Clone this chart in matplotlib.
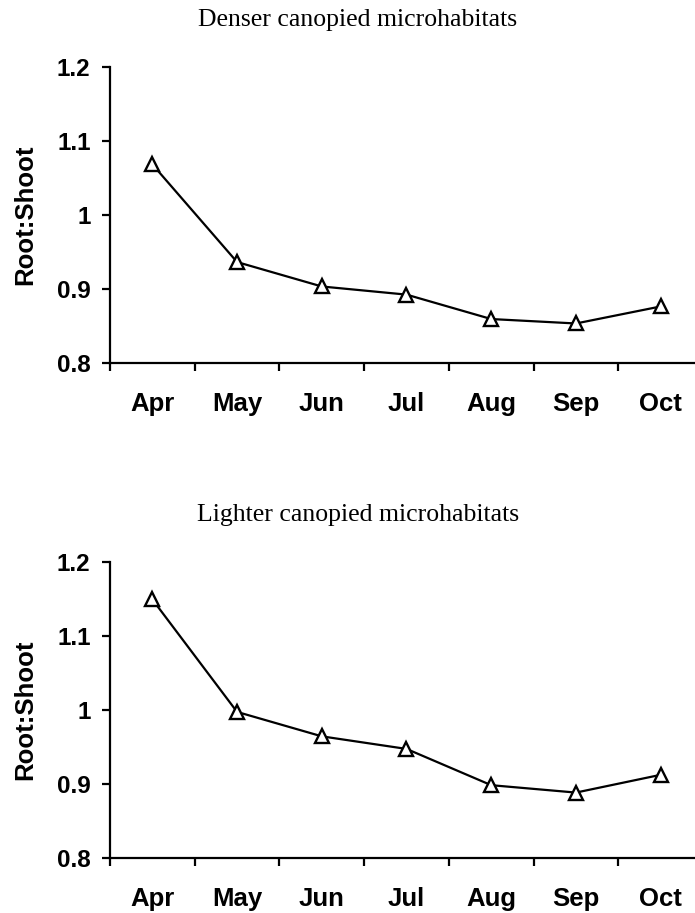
import numpy as np
import matplotlib
matplotlib.use("Agg")
import matplotlib.pyplot as plt
from matplotlib.ticker import FixedLocator

months = ["Apr", "May", "Jun", "Jul", "Aug", "Sep", "Oct"]
denser = [1.068, 0.936, 0.903, 0.892, 0.859, 0.853, 0.876]
lighter = [1.149, 0.997, 0.964, 0.947, 0.898, 0.888, 0.912]
y_ticks = [0.8, 0.9, 1.0, 1.1, 1.2]
y_tick_labels = ["0.8", "0.9", "1", "1.1", "1.2"]
titles = ["Denser canopied microhabitats", "Lighter canopied microhabitats"]

W, H = 695, 913
fig = plt.figure(figsize=(W / 100, H / 100), dpi=100)

sans = "Liberation Sans"
serif = "Liberation Serif"


def panel(top_px, values, title, title_base_px):
    # axes box in pixels: left 110, right 703 (runs off the right edge)
    left, right, bottom_px = 110, 703, top_px + 296
    ax = fig.add_axes([left / W, 1 - bottom_px / H, (right - left) / W, 296 / H])
    x = np.arange(len(months))
    ax.plot(x, values, color="black", lw=1.6, marker="^", ms=10,
            mfc="white", mec="black", mew=1.7, clip_on=False, zorder=3)
    ax.set_xlim(-0.5, len(months) - 0.5)
    ax.set_ylim(0.8, 1.2)

    for s in ["top", "right"]:
        ax.spines[s].set_visible(False)
    for s in ["left", "bottom"]:
        ax.spines[s].set_linewidth(1.6)

    ax.set_yticks(y_ticks)
    ax.set_yticklabels(y_tick_labels, fontname=sans, fontweight="bold", fontsize=17.5)
    ax.tick_params(axis="y", direction="out", length=6, width=1.6, pad=8)

    ax.set_xticks(x)
    ax.set_xticklabels(months, fontname=sans, fontweight="bold", fontsize=18.5)
    ax.tick_params(axis="x", which="major", length=0, pad=21)
    ax.xaxis.set_minor_locator(FixedLocator(np.arange(len(months) + 1) - 0.5))
    ax.tick_params(axis="x", which="minor", direction="out", length=6, width=1.6)

    fig.text(25 / W, 1 - (top_px + 148) / H, "Root:Shoot", rotation=90,
             ha="center", va="center", fontname=sans, fontweight="bold", fontsize=18.5)
    fig.text(358 / W, 1 - title_base_px / H, title, ha="center", va="baseline",
             fontname=serif, fontsize=18.5)
    return ax


panel(66.7, denser, titles[0], 26)
panel(561.7, lighter, titles[1], 521)

fig.savefig("out.png", dpi=100)
